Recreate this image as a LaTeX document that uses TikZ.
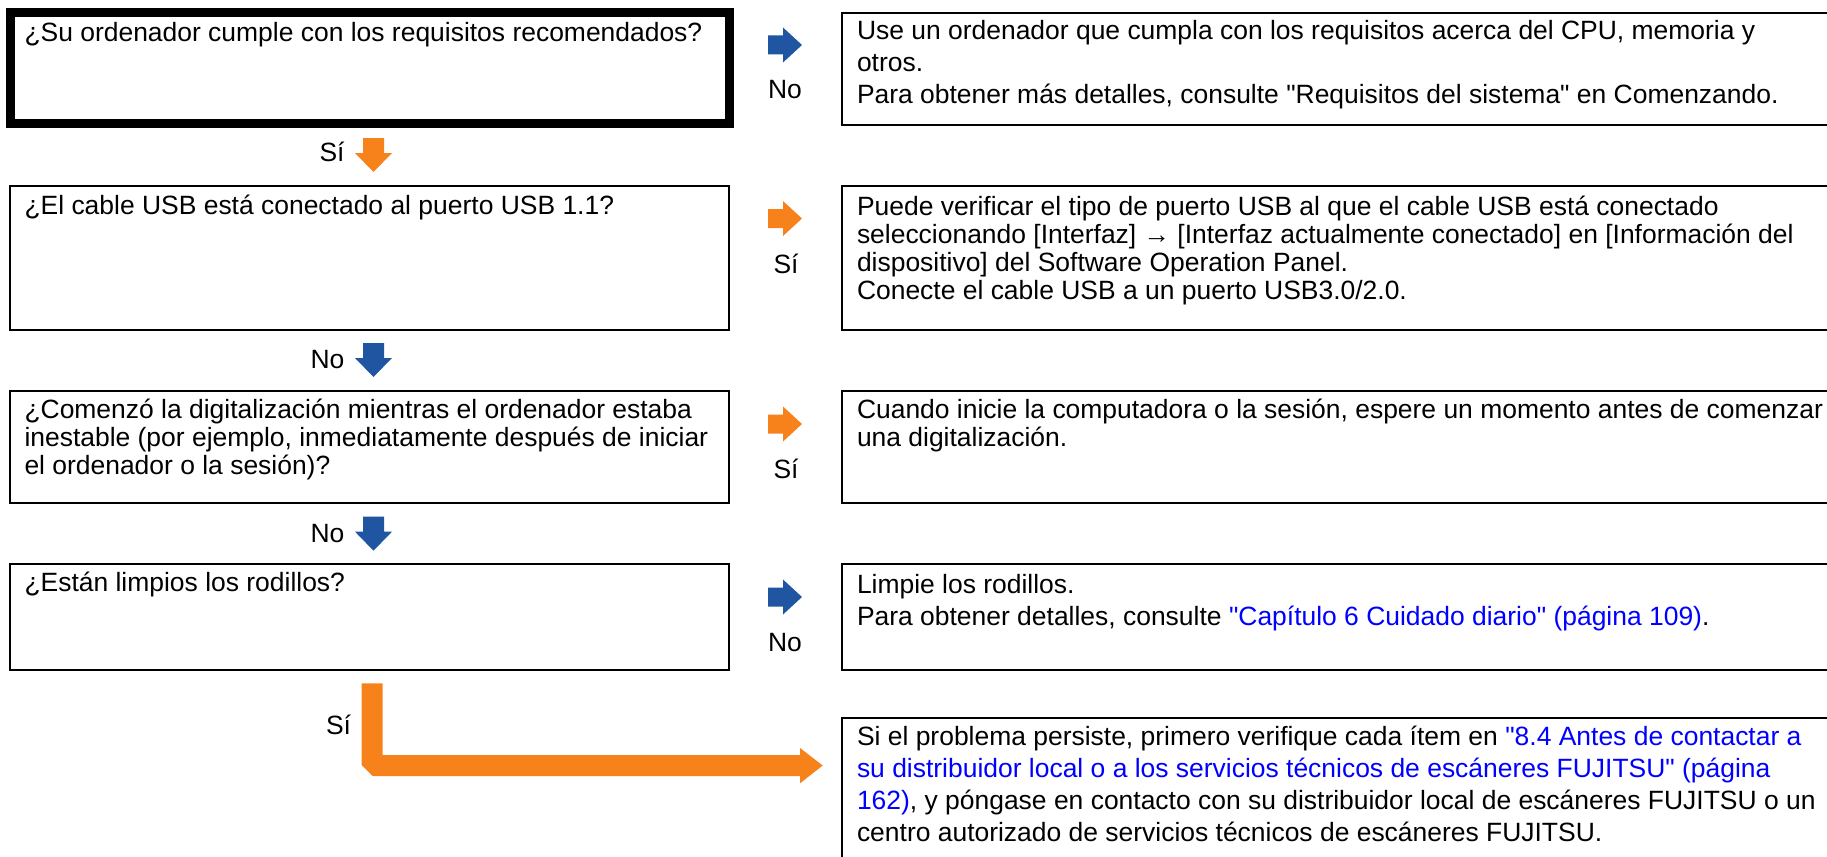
\documentclass[tikz,border=0pt]{standalone}
\usepackage{fontspec}
\newfontfamily\arialf{Liberation Sans}
\usetikzlibrary{calc}
\definecolor{arrorange}{HTML}{F7821B}
\definecolor{arrblue}{HTML}{1F55A1}
\definecolor{linkblue}{HTML}{0000FF}
\newcommand\firstln{\rule{0pt}{22pt}}
\newcommand\lk[1]{\textcolor{linkblue}{#1}}
\begin{document}
\begin{tikzpicture}[x=1pt,y=-1pt,
  box/.style={draw=black, line width=2pt, inner sep=0pt, outer sep=0pt, anchor=north west},
  thickbox/.style={box, line width=9pt},
  txt/.style={inner sep=0pt, outer sep=0pt, anchor=north west, align=left, font=\arialf\fontsize{26.45}{28.3}\selectfont},
  wide/.style={font=\arialf\fontsize{26.45}{32}\selectfont},
  lbl/.style={inner sep=0pt, anchor=base, font=\arialf\fontsize{26.45}{30}\selectfont},
  pics/rarr/.style={code={\fill[#1] (0,-9.5) -- (15,-9.5) -- (15,-17.5) -- (34,0) -- (15,17.5) -- (15,9.5) -- (0,9.5) -- cycle;}},
  pics/darr/.style={code={\fill[#1] (-10.5,0) -- (10.5,0) -- (10.5,15) -- (18.5,15) -- (0,34) -- (-18.5,15) -- (-10.5,15) -- cycle;}},
]
\useasboundingbox (0,0) rectangle (1827,856);

% question boxes
\node[thickbox, minimum width=719pt, minimum height=111pt] (q1) at (10.5,12.5) {};
\node[box, minimum width=719pt, minimum height=144pt] (q2) at (10,186) {};
\node[box, minimum width=719pt, minimum height=111.7pt] (q3) at (10,391) {};
\node[box, minimum width=719pt, minimum height=105.7pt] (q4) at (10,564.3) {};
% answer boxes
\node[box, minimum width=987pt, minimum height=112.3pt] (a1) at (842,12.7) {};
\node[box, minimum width=987pt, minimum height=144pt] (a2) at (842,186) {};
\node[box, minimum width=987pt, minimum height=111.7pt] (a3) at (842,391) {};
\node[box, minimum width=987pt, minimum height=105.7pt] (a4) at (842,564.3) {};
\node[box, minimum width=987pt, minimum height=145pt] (a5) at (842,717.7) {};

% texts
\node[txt] (q1t) at (24.5,19.7) {\firstln¿Su ordenador cumple con los requisitos recomendados?};
\node[txt] (q2t) at (24.5,192) {\firstln¿El cable USB está conectado al puerto USB 1.1?};
\node[txt] (q3t) at (24.5,396.3) {\firstln¿Comenzó la digitalización mientras el ordenador estaba\\inestable (por ejemplo, inmediatamente después de iniciar\\el ordenador o la sesión)?};
\node[txt] (q4t) at (24.5,569.7) {\firstln¿Están limpios los rodillos?};

\node[txt, wide] (a1t) at (857,17.7) {\firstln Use un ordenador que cumpla con los requisitos acerca del CPU, memoria y\\otros.\\Para obtener más detalles, consulte "Requisitos del sistema" en Comenzando.};
\node[txt] (a2t) at (857,193) {\firstln Puede verificar el tipo de puerto USB al que el cable USB está conectado\\seleccionando [Interfaz] → [Interfaz actualmente conectado] en [Información del\\dispositivo] del Software Operation Panel.\\Conecte el cable USB a un puerto USB3.0/2.0.};
\node[txt] (a3t) at (857,396) {\firstln Cuando inicie la computadora o la sesión, espere un momento antes de comenzar\\una digitalización.};
\node[txt, wide] (a4t) at (857,571.3) {\firstln Limpie los rodillos.\\Para obtener detalles, consulte \lk{"Capítulo 6 Cuidado diario" (página 109)}.};
\node[txt, wide] (a5t) at (857,723.7) {\firstln Si el problema persiste, primero verifique cada ítem en \lk{"8.4 Antes de contactar a}\\\lk{su distribuidor local o a los servicios técnicos de escáneres FUJITSU" (página}\\\lk{162)}, y póngase en contacto con su distribuidor local de escáneres FUJITSU o un\\centro autorizado de servicios técnicos de escáneres FUJITSU.};

% labels
\node[lbl] (l1) at (785,99) {No};
\node[lbl] (l2) at (332,161.7) {Sí};
\node[lbl] (l3) at (786,273.3) {Sí};
\node[lbl] (l4) at (327.5,368.3) {No};
\node[lbl] (l5) at (786,478.3) {Sí};
\node[lbl] (l6) at (327.5,542.3) {No};
\node[lbl] (l7) at (785,651) {No};
\node[lbl] (l8) at (338.5,734.3) {Sí};

% arrows
\pic at (768,45) {rarr=arrblue};
\pic at (768,218.5) {rarr=arrorange};
\pic at (768,424) {rarr=arrorange};
\pic at (768,597) {rarr=arrblue};
\pic at (373.5,138) {darr=arrorange};
\pic at (373.5,343) {darr=arrblue};
\pic at (373.5,516.7) {darr=arrblue};

% L-shaped arrow to the last box
\fill[arrorange] (361.7,683.3) -- (382.7,683.3) -- (382.7,755) -- (800,755) -- (800,748) -- (822.7,765.5) -- (800,783.3) -- (800,776) -- (372.7,776) -- (361.7,765) -- cycle;
\end{tikzpicture}
\end{document}
